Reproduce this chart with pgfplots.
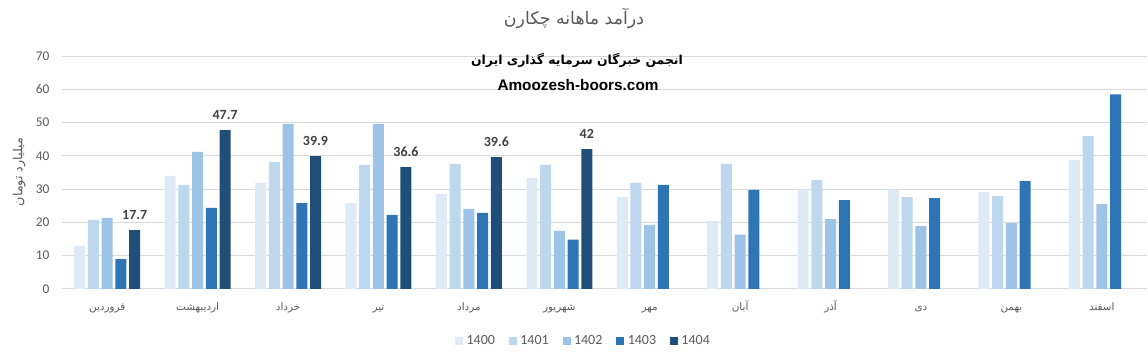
\documentclass[border=0pt]{standalone}
\usepackage{fontspec}
\setmainfont{Carlito}
\newfontfamily\arabicfont[Script=Arabic]{DejaVu Sans}
\newfontfamily\arialfont{Liberation Sans}
\usepackage{pgfplots}
\pgfplotsset{compat=1.18}
\TeXXeTstate=1
\definecolor{cA}{HTML}{DEEBF7}
\definecolor{cB}{HTML}{BDD7EE}
\definecolor{cC}{HTML}{9DC3E6}
\definecolor{cD}{HTML}{2E75B6}
\definecolor{cE}{HTML}{1F4E79}
\definecolor{gridgray}{HTML}{D9D9D9}
\definecolor{txtgray}{HTML}{595959}
\definecolor{lblgray}{HTML}{404040}
\newcommand\fa[1]{{\arabicfont\beginR #1\endR}}

\begin{document}
\begin{tikzpicture}
\useasboundingbox (0,0) rectangle (861pt,264.75pt);
\begin{axis}[
  at={(46.5pt,48pt)}, anchor=south west,
  scale only axis, width=813.75pt, height=174.75pt,
  xmin=-0.5, xmax=11.5, ymin=0, ymax=70,
  ybar, bar width=8.25pt,
  axis lines*=left, axis line style={draw=none},
  major tick length=0pt,
  xtick={0,...,11},
  xticklabels={\fa{فروردین},\fa{اردیبهشت},\fa{خرداد},\fa{تیر},\fa{مرداد},\fa{شهریور},\fa{مهر},\fa{آبان},\fa{آذر},\fa{دی},\fa{بهمن},\fa{اسفند}},
  xticklabel style={font=\fontsize{7.8}{9}\selectfont, text=txtgray, anchor=base, yshift=-16pt},
  ytick={0,10,...,70},
  yticklabel style={font=\fontsize{10}{12}\selectfont, text=txtgray, xshift=-6pt},
  /pgf/number format/assume math mode=true,
  ymajorgrids, grid style={draw=gridgray, line width=0.75pt},
  legend style={at={(0.481,-0.222)}, anchor=center, draw=none, fill=none,
    legend columns=-1, font=\fontsize{10.5}{12}\selectfont, text=txtgray,
    /tikz/every odd column/.append style={column sep=0.5pt},
    /tikz/every even column/.append style={column sep=8.5pt}},
  legend image code/.code={\path[#1,draw=none] (0pt,-3pt) rectangle (6pt,3pt);},
]
\addplot[fill=cA, draw=none, bar shift=-20.6pt] coordinates {(0,13.0) (1,34.0) (2,31.9) (3,25.8) (4,28.5) (5,33.4) (6,27.7) (7,20.5) (8,29.8) (9,29.8) (10,29.1) (11,38.7)};
\addplot[fill=cB, draw=none, bar shift=-10.3pt] coordinates {(0,20.8) (1,31.3) (2,38.2) (3,37.3) (4,37.6) (5,37.3) (6,31.9) (7,37.6) (8,32.7) (9,27.6) (10,27.9) (11,45.9)};
\addplot[fill=cC, draw=none, bar shift=0pt] coordinates {(0,21.4) (1,41.2) (2,49.6) (3,49.6) (4,24.1) (5,17.5) (6,19.3) (7,16.3) (8,21.0) (9,18.9) (10,19.8) (11,25.5)};
\addplot[fill=cD, draw=none, bar shift=10.3pt] coordinates {(0,9.0) (1,24.4) (2,25.8) (3,22.3) (4,22.9) (5,14.8) (6,31.3) (7,29.8) (8,26.7) (9,27.3) (10,32.4) (11,58.5)};
\addplot[fill=cE, draw=none, bar shift=20.6pt,
  nodes near coords,
  nodes near coords style={font=\bfseries\fontsize{10.5}{12}\selectfont, text=lblgray, anchor=south, yshift=4.5pt}]
  coordinates {(0,17.7) (1,47.7) (2,39.9) (3,36.6) (4,39.6) (5,42)};
\legend{1400,1401,1402,1403,1404}
\end{axis}
\node[text=txtgray, font=\fontsize{13}{15}\selectfont] at (430.5pt,251.25pt) {\fa{درآمد ماهانه چکارن}};
\node[text=black, font=\fontsize{9.3}{11}\selectfont] at (432.75pt,219.75pt) {\fa{\bfseries انجمن خبرگان سرمایه گذاری ایران}};
\node[text=black, font=\arialfont\bfseries\fontsize{11.5}{13}\selectfont] at (433.5pt,201pt) {Amoozesh-boors.com};
\node[text=txtgray, font=\fontsize{9.5}{11}\selectfont, rotate=90] at (14.25pt,135.75pt) {\fa{میلیارد تومان}};
\end{tikzpicture}
\end{document}
